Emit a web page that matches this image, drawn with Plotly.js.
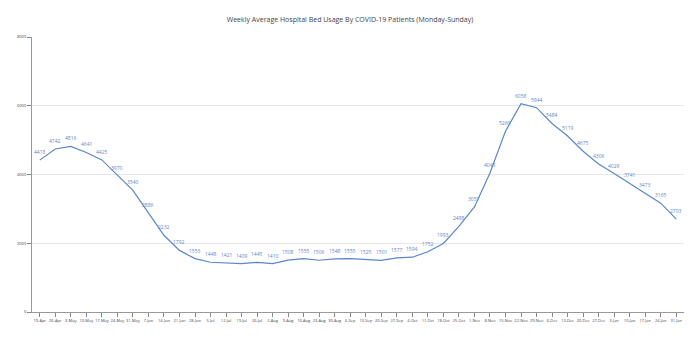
<!DOCTYPE html>
<html>
<head>
<meta charset="utf-8">
<script src="https://cdn.plot.ly/plotly-3.0.1.min.js"></script>
<style>html,body{margin:0;padding:0;background:#fff;}#chart{width:700px;height:340px;}</style>
</head>
<body>
<div id="chart"></div>
<script>
const weeks = ["19-Apr","26-Apr","3-May","10-May","17-May","24-May","31-May","7-Jun","14-Jun","21-Jun","28-Jun","5-Jul","12-Jul","19-Jul","26-Jul","2-Aug","9-Aug","16-Aug","23-Aug","30-Aug","6-Sep","13-Sep","20-Sep","27-Sep","4-Oct","11-Oct","18-Oct","25-Oct","1-Nov","8-Nov","15-Nov","22-Nov","29-Nov","6-Dec","13-Dec","20-Dec","27-Dec","3-Jan","10-Jan","17-Jan","24-Jan","31-Jan"];
const bedUsage = [4418,4742,4816,4641,4425,3970,3540,2886,2232,1792,1553,1448,1421,1409,1445,1410,1508,1555,1506,1548,1555,1525,1501,1577,1594,1752,1993,2488,3057,4043,5260,6058,5944,5484,5119,4675,4306,4029,3741,3473,3165,2703];
const yTicks = [0,2000,4000,6000,8000];

const font = 'Open Sans, Liberation Sans, sans-serif';
const labels = weeks.map((w, i) => ({
  x: w, y: bedUsage[i], xref: 'x', yref: 'y',
  text: String(bedUsage[i]), showarrow: false,
  yshift: 8, xshift: 0,
  font: {family: font, size: 5, color: '#5f87c6'}
}));

Plotly.newPlot('chart', [{
  x: weeks,
  y: bedUsage,
  type: 'scatter',
  mode: 'lines',
  line: {color: '#5b87c8', width: 1.2},
  hoverinfo: 'x+y'
}], {
  width: 700, height: 340,
  margin: {l: 32, r: 16, t: 37, b: 28},
  paper_bgcolor: '#fff', plot_bgcolor: '#fff',
  showlegend: false,
  annotations: labels,
  title: {text: 'Weekly Average Hospital Bed Usage By COVID-19 Patients (Monday-Sunday)',
          font: {family: font, size: 7, color: '#444'},
          x: 0.5, xanchor: 'center', y: 0.942, yanchor: 'middle'},
  xaxis: {
    type: 'category', range: [-0.5, 41.5],
    tickmode: 'array', tickvals: weeks, ticktext: weeks,
    tickangle: 0, ticks: 'outside', ticklen: 4, tickcolor: '#888', tickwidth: 1,
    showline: true, linecolor: '#999', linewidth: 1,
    showgrid: false, zeroline: false,
    tickfont: {family: font, size: 4, color: '#444'}
  },
  yaxis: {
    range: [0, 8000], tickmode: 'array', tickvals: yTicks, ticktext: yTicks.map(String),
    ticks: 'outside', ticklen: 4, tickcolor: '#888', tickwidth: 1,
    showline: true, linecolor: '#999', linewidth: 1,
    showgrid: true, gridcolor: '#e6e6e6', gridwidth: 1, zeroline: false,
    tickfont: {family: font, size: 4, color: '#444'}
  }
}, {displayModeBar: false, staticPlot: true});
</script>
</body>
</html>
